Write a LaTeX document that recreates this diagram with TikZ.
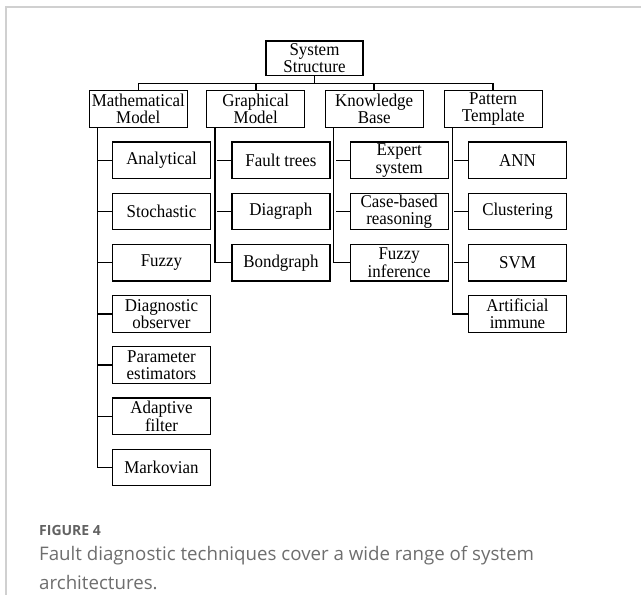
\documentclass[tikz,border=0pt]{standalone}
\usepackage{fontspec}
\setmainfont{Liberation Serif}[FakeStretch=0.94]
\newfontfamily\capfont{Open Sans}
\definecolor{framegray}{HTML}{D0D0D0}
\definecolor{captiongray}{HTML}{6E6E6E}
\definecolor{labelgray}{HTML}{626262}
\begin{document}
\begin{tikzpicture}[x=1pt,y=-1pt,
  box/.style={draw=black, line width=1.2pt, minimum width=98pt, minimum height=36.5pt,
    inner sep=0pt, align=center, font=\fontsize{18}{17.5}\selectfont},
  link/.style={draw=black, line width=1.5pt},
  caption/.style={anchor=base west, inner sep=0pt, text=captiongray,
    font=\capfont\fontsize{18.7}{24}\selectfont}]
\useasboundingbox (0,0) rectangle (641,595);
% card frame
\draw[line width=1.3pt, framegray] (6,595) -- (6,7) -- (641,7);

% root and first level
\node[box, minimum width=97pt, minimum height=34.5pt] (root) at (314.5,58.2) {System\\Structure};
\node[box] (m) at (138.3,109) {Mathematical\\Model};
\node[box] (g) at (255.8,109) {Graphical\\Model};
\node[box] (k) at (374.2,109) {Knowledge\\Base};
\node[box] (p) at (493.2,109) {Pattern\\Template};

\coordinate (busL) at (138.3,83.3);
\coordinate (busR) at (493.2,83.3);
\draw[link] (root.south) -- (root.south |- busL);
\draw[link] (m.north) -- (busL) -- (busR) -- (p.north);
\draw[link] (g.north) -- (g.north |- busL);
\draw[link] (k.north) -- (k.north |- busL);

% second level: mathematical model
\node[box] (m1) at (161.5,160.3) {Analytical};
\node[box] (m2) at (161.5,211.5) {Stochastic};
\node[box] (m3) at (161.5,262.7) {Fuzzy};
\node[box] (m4) at (161.5,313.9) {Diagnostic\\observer};
\node[box] (m5) at (161.5,365.1) {Parameter\\estimators};
\node[box] (m6) at (161.5,416.3) {Adaptive\\filter};
\node[box] (m7) at (161.5,467.5) {Markovian};

% second level: graphical model
\node[box] (g1) at (280.9,160.3) {Fault trees};
\node[box] (g2) at (280.9,211.5) {Diagraph};
\node[box] (g3) at (280.9,262.7) {Bondgraph};

% second level: knowledge base
\node[box] (k1) at (399.2,160.3) {Expert\\system};
\node[box] (k2) at (399.2,211.5) {Case-based\\reasoning};
\node[box] (k3) at (399.2,262.7) {Fuzzy\\inference};

% second level: pattern template
\node[box] (p1) at (517.5,160.3) {ANN};
\node[box] (p2) at (517.5,211.5) {Clustering};
\node[box] (p3) at (517.5,262.7) {SVM};
\node[box] (p4) at (517.5,313.9) {Artificial\\immune};

% spines with their branches
\draw[link] ([xshift=9pt]m.south west) |- (m7.west);
\foreach \c in {m1,m2,m3,m4,m5,m6}
  \draw[link] (\c.west) -- ++(-14pt,0);
\draw[link] ([xshift=9pt]g.south west) |- (g3.west);
\foreach \c in {g1,g2}
  \draw[link] (\c.west) -- ++(-14pt,0);
\draw[link] ([xshift=9pt]k.south west) |- (k3.west);
\foreach \c in {k1,k2}
  \draw[link] (\c.west) -- ++(-14pt,0);
\draw[link] ([xshift=9pt]p.south west) |- (p4.west);
\foreach \c in {p1,p2,p3}
  \draw[link] (\c.west) -- ++(-14pt,0);

% caption
\node[caption, text=labelgray, font=\capfont\bfseries\fontsize{14}{17}\selectfont] (figlabel) at (39,535) {FIGURE 4};
\node[caption] (cap1) at (39,560) {Fault diagnostic techniques cover a wide range of system};
\node[caption] (cap2) at (39,589) {architectures.};
\end{tikzpicture}
\end{document}
